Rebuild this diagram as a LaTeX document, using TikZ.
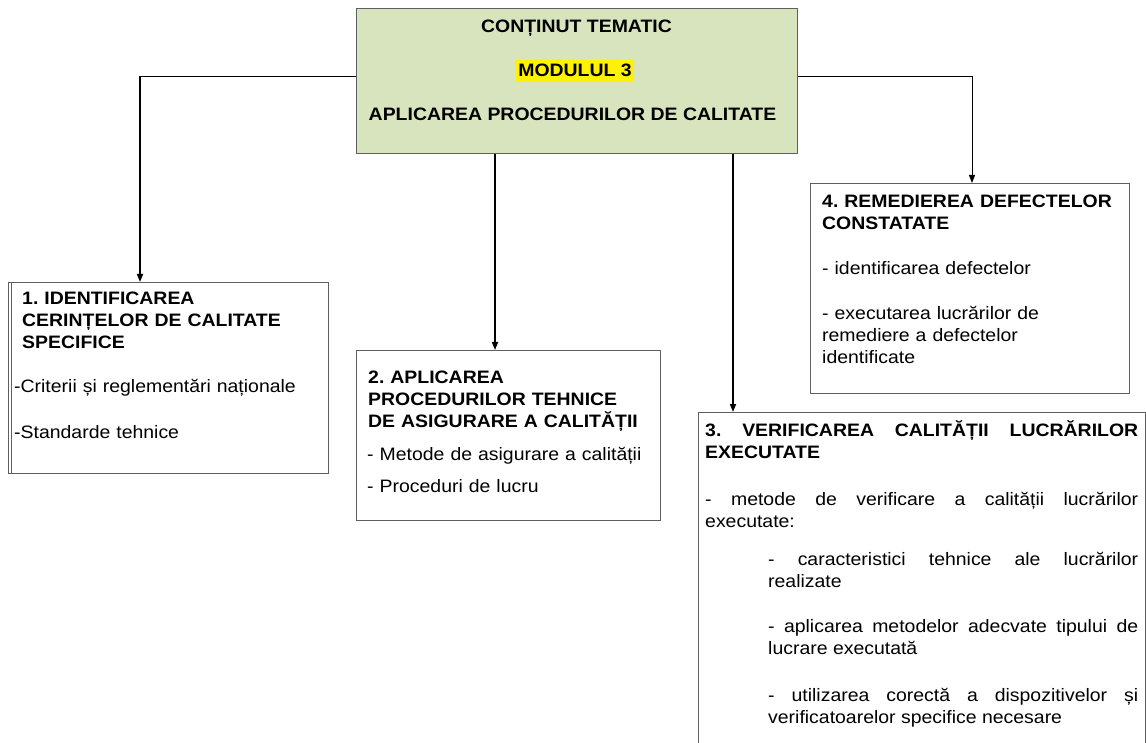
\documentclass[tikz,border=0pt]{standalone}
\usepackage{fontspec}
\setmainfont{Liberation Sans}[FakeStretch=1.08]
\usetikzlibrary{positioning,calc,arrows.meta}
\definecolor{topgreen}{RGB}{215,228,189}
\definecolor{boxgray}{RGB}{95,95,95}
\frenchspacing

\begin{document}
\begin{tikzpicture}[x=1pt, y=-1pt,
    box/.style={draw=boxgray, line width=0.9pt, inner sep=0pt, anchor=north west},
    txt/.style={inner sep=0pt, anchor=base west, align=left, font=\fontsize{18}{22}\selectfont},
    head/.style={txt, font=\fontsize{18}{22}\selectfont\bfseries},
    link/.style={line width=1.6pt, -{Triangle[length=8pt,width=6pt]}}]
    \useasboundingbox (0,0) rectangle (1146,743);

    % Top box
    \node[box, fill=topgreen, minimum width=441pt, minimum height=145pt] (top) at (356,8) {};
    \node[head, anchor=base] (title) at (576.5,33) {CONȚINUT TEMATIC};
    \node[head, anchor=base, fill=yellow, inner xsep=2pt, inner ysep=2pt,
          text height=15pt, text depth=3pt] (modul) at (575,77) {MODULUL 3};
    \node[head, anchor=base] (subtitle) at (572.5,121) {APLICAREA PROCEDURILOR DE CALITATE};

    % Boxes
    \node[box, minimum width=320pt, minimum height=191pt] (b1) at (8,282) {};
    \draw[boxgray, line width=0.9pt] ([xshift=3.5pt]b1.north west) -- ([xshift=3.5pt]b1.south west);
    \node[box, minimum width=304pt, minimum height=170pt] (b2) at (356,350) {};
    \node[box, minimum width=447pt, minimum height=348pt] (b3) at (698,412) {};
    \node[box, minimum width=319pt, minimum height=210pt] (b4) at (810,183) {};

    % Box 1
    \node[head, text width=300pt] (h1) at (22,305) {1. IDENTIFICAREA\\CERINȚELOR DE CALITATE\\SPECIFICE};
    \node[txt, text width=310pt] (l1) at (14,392) {-Criterii și reglementări naționale\\[24pt]-Standarde tehnice};

    % Box 2
    \node[head, text width=290pt] (h2) at (368,383) {2. APLICAREA\\PROCEDURILOR TEHNICE\\DE ASIGURARE A CALITĂȚII};
    \node[txt, text width=290pt] (l2) at (367,460) {- Metode de asigurare a calității\\[10pt]- Proceduri de lucru};

    % Box 4
    \node[head, text width=300pt] (h4) at (822,208) {4. REMEDIEREA DEFECTELOR\\CONSTATATE};
    \node[txt, text width=300pt] (l4) at (822,275) {- identificarea defectelor\\[23pt]- executarea lucrărilor de\\remediere a defectelor\\identificate};

    % Box 3 (justified text)
    \node[head, text width=433pt, align=justify] (h3) at (705,436)
        {3. VERIFICAREA CALITĂȚII LUCRĂRILOR\linebreak EXECUTATE};
    \node[txt, text width=433pt, align=justify] (l3) at (705,505)
        {- metode de verificare a calității lucrărilor\linebreak executate:\par
         \vspace{16pt}
         {\leftskip=63pt - caracteristici tehnice ale lucrărilor\linebreak realizate\par}
         \vspace{23pt}
         {\leftskip=63pt - aplicarea metodelor adecvate tipului de\linebreak lucrare executată\par}
         \vspace{25pt}
         {\leftskip=63pt - utilizarea corectă a dispozitivelor și\linebreak verificatoarelor specifice necesare\par}};

    % Connectors
    \coordinate (c1) at (140,76);
    \coordinate (c4) at (972,76);
    \coordinate (a2) at (495,0);
    \coordinate (a3) at (733,0);
    \draw[line width=0.9pt] (top.west |- c1) -- (c1);
    \draw[link] (c1) -- (b1.north -| c1);
    \draw[line width=0.9pt] (top.east |- c4) -- (c4);
    \draw[link, line width=1pt] (c4) -- (b4.north -| c4);
    \draw[link] (top.south -| a2) -- (b2.north -| a2);
    \draw[link] (top.south -| a3) -- (b3.north -| a3);
\end{tikzpicture}
\end{document}
